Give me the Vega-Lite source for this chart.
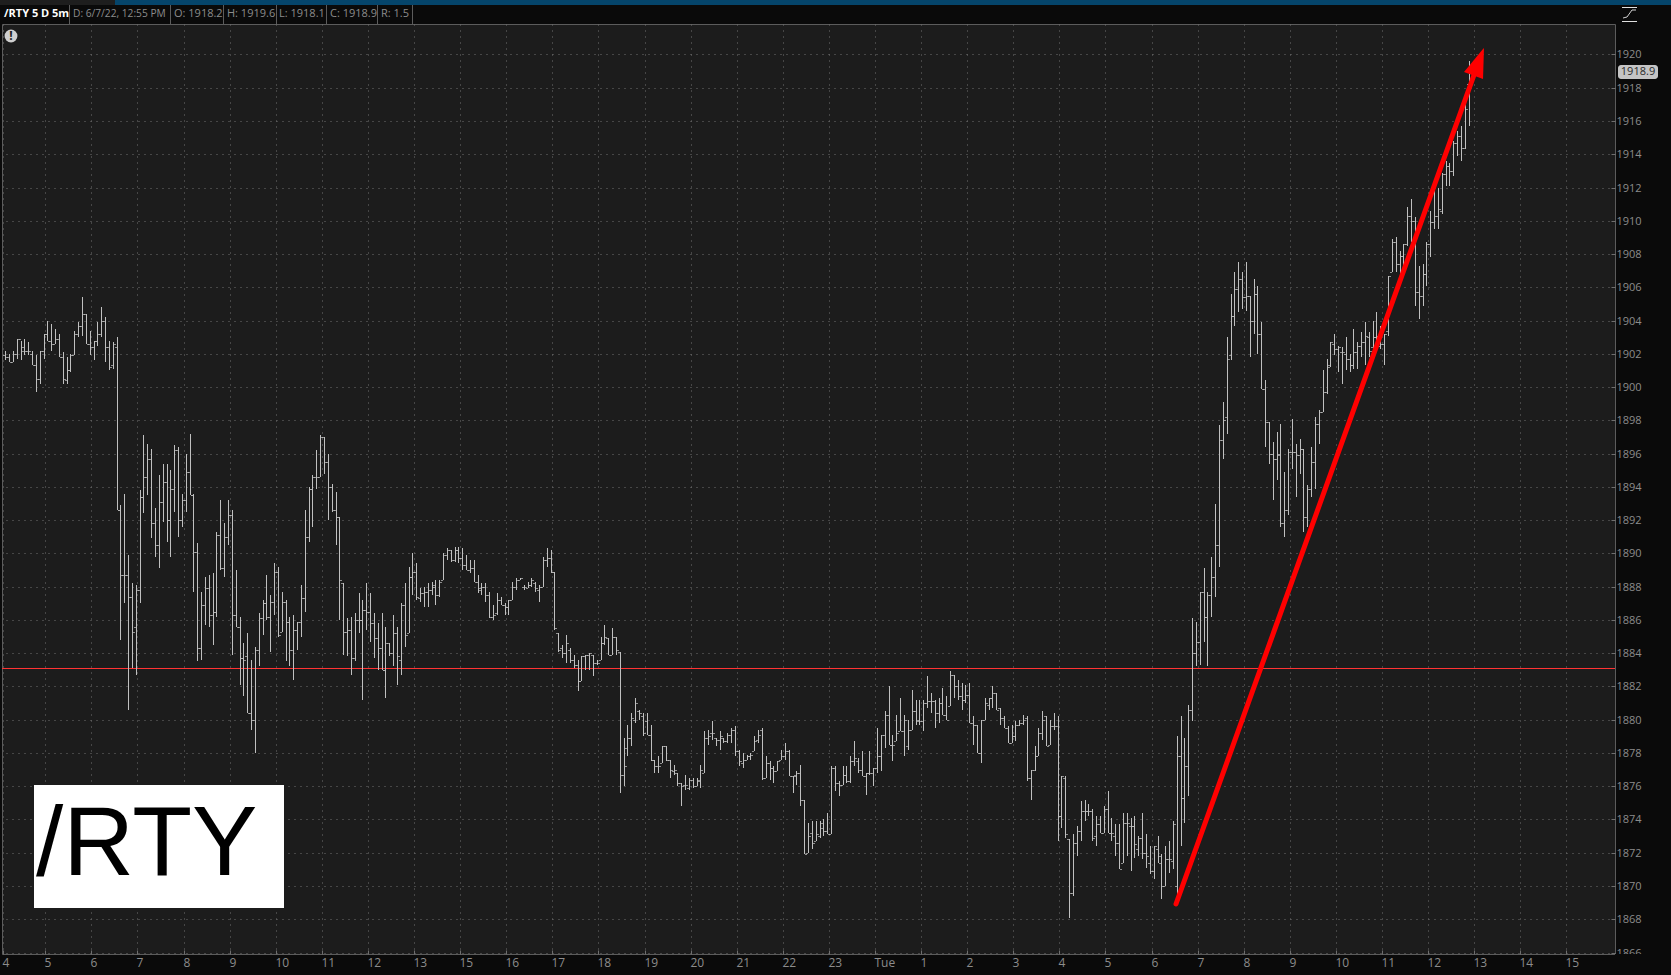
{
"$schema":"https://vega.github.io/schema/vega-lite/v6.json",
"width":1613,"height":930,
"autosize":{"type":"none"},
"padding":{"left":2,"top":24,"right":56,"bottom":21},
"background":"#0a0a0a",
"view":{"fill":"#1c1c1c","stroke":"#5c5c5c","strokeWidth":1},
"datasets":{
"bars":[
{"i":0,"h":1902.2,"l":1901.6,"o":1901.9,"c":1901.8},
{"i":1,"h":1902.0,"l":1901.5,"o":1901.8,"c":1901.5},
{"i":2,"h":1902.2,"l":1901.5,"o":1901.5,"c":1902.0},
{"i":3,"h":1902.9,"l":1901.7,"o":1902.0,"c":1902.9},
{"i":4,"h":1902.8,"l":1901.6,"o":1902.9,"c":1902.2},
{"i":5,"h":1902.9,"l":1901.9,"o":1902.4,"c":1902.2},
{"i":6,"h":1902.7,"l":1901.9,"o":1902.2,"c":1902.2},
{"i":7,"h":1902.2,"l":1901.3,"o":1902.0,"c":1901.3},
{"i":8,"h":1901.9,"l":1899.7,"o":1901.3,"c":1900.5},
{"i":9,"h":1902.2,"l":1900.2,"o":1900.5,"c":1902.2},
{"i":10,"h":1903.2,"l":1901.7,"o":1902.2,"c":1903.2},
{"i":11,"h":1904.0,"l":1902.8,"o":1903.2,"c":1902.8},
{"i":12,"h":1903.8,"l":1902.2,"o":1902.8,"c":1902.6},
{"i":13,"h":1903.5,"l":1902.6,"o":1902.6,"c":1902.9},
{"i":14,"h":1903.2,"l":1901.8,"o":1902.9,"c":1901.8},
{"i":15,"h":1902.1,"l":1900.2,"o":1901.8,"c":1900.5},
{"i":16,"h":1901.8,"l":1900.2,"o":1900.4,"c":1901.0},
{"i":17,"h":1902.0,"l":1900.9,"o":1901.0,"c":1901.9},
{"i":18,"h":1903.4,"l":1901.9,"o":1901.9,"c":1903.2},
{"i":19,"h":1903.9,"l":1903.0,"o":1903.2,"c":1903.7},
{"i":20,"h":1905.4,"l":1903.1,"o":1903.7,"c":1904.4},
{"i":21,"h":1904.4,"l":1902.6,"o":1904.4,"c":1902.6},
{"i":22,"h":1903.4,"l":1901.9,"o":1902.6,"c":1902.4},
{"i":23,"h":1902.8,"l":1901.6,"o":1902.4,"c":1902.8},
{"i":24,"h":1903.9,"l":1902.5,"o":1902.8,"c":1903.2},
{"i":25,"h":1904.8,"l":1903.0,"o":1903.2,"c":1904.0},
{"i":26,"h":1904.2,"l":1901.5,"o":1904.0,"c":1902.4},
{"i":27,"h":1902.8,"l":1901.0,"o":1902.4,"c":1901.2},
{"i":28,"h":1902.7,"l":1901.1,"o":1901.3,"c":1902.6},
{"i":29,"h":1903.0,"l":1892.6,"o":1902.4,"c":1892.6},
{"i":30,"h":1892.9,"l":1884.8,"o":1892.6,"c":1888.7},
{"i":31,"h":1893.6,"l":1887.0,"o":1888.7,"c":1888.7},
{"i":32,"h":1889.9,"l":1880.6,"o":1888.7,"c":1887.4},
{"i":33,"h":1888.2,"l":1883.1,"o":1887.4,"c":1885.3},
{"i":34,"h":1888.1,"l":1882.7,"o":1885.6,"c":1887.8},
{"i":35,"h":1893.8,"l":1887.0,"o":1887.8,"c":1893.4},
{"i":36,"h":1897.1,"l":1892.4,"o":1893.4,"c":1894.6},
{"i":37,"h":1896.6,"l":1893.5,"o":1894.6,"c":1895.7},
{"i":38,"h":1896.3,"l":1890.9,"o":1895.7,"c":1891.8},
{"i":39,"h":1892.7,"l":1889.8,"o":1891.8,"c":1890.5},
{"i":40,"h":1894.7,"l":1889.1,"o":1890.5,"c":1893.1},
{"i":41,"h":1895.4,"l":1891.9,"o":1893.1,"c":1894.3},
{"i":42,"h":1895.4,"l":1890.7,"o":1894.3,"c":1892.0},
{"i":43,"h":1895.0,"l":1889.8,"o":1892.0,"c":1893.9},
{"i":44,"h":1896.5,"l":1892.5,"o":1893.9,"c":1896.2},
{"i":45,"h":1896.4,"l":1891.0,"o":1896.2,"c":1892.0},
{"i":46,"h":1893.6,"l":1891.6,"o":1892.0,"c":1893.2},
{"i":47,"h":1896.0,"l":1892.5,"o":1893.2,"c":1894.9},
{"i":48,"h":1897.2,"l":1893.5,"o":1894.9,"c":1893.5},
{"i":49,"h":1893.6,"l":1887.7,"o":1893.5,"c":1890.1},
{"i":50,"h":1890.6,"l":1883.5,"o":1890.1,"c":1884.3},
{"i":51,"h":1887.7,"l":1883.6,"o":1884.3,"c":1886.9},
{"i":52,"h":1888.6,"l":1885.7,"o":1886.9,"c":1887.9},
{"i":53,"h":1888.7,"l":1885.6,"o":1887.9,"c":1886.3},
{"i":54,"h":1888.8,"l":1884.5,"o":1886.3,"c":1886.5},
{"i":55,"h":1891.3,"l":1886.2,"o":1886.5,"c":1891.1},
{"i":56,"h":1893.2,"l":1889.0,"o":1891.1,"c":1889.1},
{"i":57,"h":1891.8,"l":1888.6,"o":1889.1,"c":1891.0},
{"i":58,"h":1893.2,"l":1890.5,"o":1891.0,"c":1892.3},
{"i":59,"h":1892.6,"l":1883.9,"o":1892.3,"c":1886.3},
{"i":60,"h":1889.0,"l":1885.6,"o":1886.3,"c":1885.6},
{"i":61,"h":1886.2,"l":1882.1,"o":1885.6,"c":1883.7},
{"i":62,"h":1884.6,"l":1881.4,"o":1883.7,"c":1883.6},
{"i":63,"h":1885.2,"l":1880.4,"o":1883.8,"c":1880.4},
{"i":64,"h":1883.6,"l":1879.4,"o":1880.4,"c":1880.0},
{"i":65,"h":1884.4,"l":1878.0,"o":1880.0,"c":1884.2},
{"i":66,"h":1886.4,"l":1883.2,"o":1884.2,"c":1886.1},
{"i":67,"h":1887.2,"l":1885.1,"o":1886.1,"c":1887.0},
{"i":68,"h":1888.7,"l":1886.0,"o":1887.0,"c":1886.2},
{"i":69,"h":1887.5,"l":1884.1,"o":1886.2,"c":1887.1},
{"i":70,"h":1889.4,"l":1886.3,"o":1887.1,"c":1888.9},
{"i":71,"h":1889.2,"l":1885.0,"o":1888.9,"c":1885.1},
{"i":72,"h":1887.7,"l":1885.3,"o":1885.3,"c":1887.1},
{"i":73,"h":1887.2,"l":1883.5,"o":1887.1,"c":1885.9},
{"i":74,"h":1886.2,"l":1883.2,"o":1885.9,"c":1884.2},
{"i":75,"h":1886.3,"l":1882.4,"o":1884.2,"c":1885.4},
{"i":76,"h":1885.9,"l":1884.2,"o":1885.4,"c":1885.9},
{"i":77,"h":1888.1,"l":1885.0,"o":1885.9,"c":1887.3},
{"i":78,"h":1892.6,"l":1886.5,"o":1887.3,"c":1891.0},
{"i":79,"h":1894.0,"l":1890.7,"o":1891.0,"c":1893.9},
{"i":80,"h":1894.7,"l":1891.6,"o":1893.9,"c":1894.6},
{"i":81,"h":1896.2,"l":1893.9,"o":1894.6,"c":1894.6},
{"i":82,"h":1897.1,"l":1894.6,"o":1894.6,"c":1897.0},
{"i":83,"h":1897.0,"l":1894.8,"o":1897.0,"c":1895.5},
{"i":84,"h":1896.0,"l":1892.0,"o":1895.5,"c":1894.0},
{"i":85,"h":1894.2,"l":1892.5,"o":1894.0,"c":1892.6},
{"i":86,"h":1893.7,"l":1890.5,"o":1892.6,"c":1892.2},
{"i":87,"h":1892.2,"l":1886.0,"o":1892.2,"c":1888.4},
{"i":88,"h":1888.2,"l":1883.9,"o":1888.2,"c":1885.3},
{"i":89,"h":1886.1,"l":1883.8,"o":1885.3,"c":1885.4},
{"i":90,"h":1886.2,"l":1882.7,"o":1885.4,"c":1883.7},
{"i":91,"h":1886.4,"l":1883.5,"o":1883.7,"c":1886.0},
{"i":92,"h":1887.6,"l":1885.2,"o":1886.0,"c":1886.0},
{"i":93,"h":1887.2,"l":1881.2,"o":1886.0,"c":1886.6},
{"i":94,"h":1888.2,"l":1885.4,"o":1886.6,"c":1886.5},
{"i":95,"h":1887.6,"l":1884.7,"o":1886.5,"c":1885.8},
{"i":96,"h":1886.4,"l":1883.7,"o":1885.8,"c":1884.9},
{"i":97,"h":1885.8,"l":1883.0,"o":1884.9,"c":1884.3},
{"i":98,"h":1886.4,"l":1883.0,"o":1884.3,"c":1883.0},
{"i":99,"h":1885.6,"l":1881.3,"o":1883.0,"c":1884.6},
{"i":100,"h":1884.6,"l":1883.8,"o":1884.6,"c":1884.0},
{"i":101,"h":1886.3,"l":1883.2,"o":1884.0,"c":1885.2},
{"i":102,"h":1885.6,"l":1882.1,"o":1885.2,"c":1883.8},
{"i":103,"h":1887.0,"l":1882.7,"o":1883.6,"c":1886.9},
{"i":104,"h":1888.2,"l":1884.4,"o":1886.9,"c":1885.1},
{"i":105,"h":1889.2,"l":1885.2,"o":1885.2,"c":1888.6},
{"i":106,"h":1890.0,"l":1887.5,"o":1888.6,"c":1888.9},
{"i":107,"h":1889.4,"l":1887.2,"o":1888.9,"c":1887.4},
{"i":108,"h":1887.9,"l":1887.1,"o":1887.3,"c":1887.6},
{"i":109,"h":1888.0,"l":1886.8,"o":1887.6,"c":1887.7},
{"i":110,"h":1888.2,"l":1886.8,"o":1887.7,"c":1887.8},
{"i":111,"h":1888.3,"l":1887.5,"o":1887.8,"c":1888.0},
{"i":112,"h":1888.4,"l":1886.9,"o":1888.1,"c":1887.5},
{"i":113,"h":1888.4,"l":1887.4,"o":1887.5,"c":1888.3},
{"i":114,"h":1890.0,"l":1888.4,"o":1888.4,"c":1889.9},
{"i":115,"h":1890.3,"l":1889.6,"o":1889.9,"c":1890.2},
{"i":116,"h":1890.2,"l":1889.5,"o":1890.2,"c":1889.6},
{"i":117,"h":1890.4,"l":1889.5,"o":1889.6,"c":1890.2},
{"i":118,"h":1890.4,"l":1889.4,"o":1890.2,"c":1889.7},
{"i":119,"h":1890.3,"l":1889.0,"o":1889.7,"c":1889.3},
{"i":120,"h":1889.9,"l":1889.0,"o":1889.3,"c":1889.0},
{"i":121,"h":1889.6,"l":1888.8,"o":1889.0,"c":1889.1},
{"i":122,"h":1889.6,"l":1888.3,"o":1889.1,"c":1888.3},
{"i":123,"h":1888.7,"l":1887.6,"o":1888.3,"c":1887.9},
{"i":124,"h":1888.2,"l":1887.5,"o":1887.8,"c":1888.0},
{"i":125,"h":1888.2,"l":1887.1,"o":1888.0,"c":1887.5},
{"i":126,"h":1887.7,"l":1886.1,"o":1887.5,"c":1886.2},
{"i":127,"h":1886.9,"l":1886.0,"o":1886.2,"c":1886.3},
{"i":128,"h":1887.6,"l":1886.3,"o":1886.4,"c":1887.2},
{"i":129,"h":1887.4,"l":1886.9,"o":1887.2,"c":1886.9},
{"i":130,"h":1887.0,"l":1886.3,"o":1886.9,"c":1886.8},
{"i":131,"h":1887.2,"l":1886.3,"o":1886.8,"c":1887.2},
{"i":132,"h":1888.3,"l":1887.2,"o":1887.2,"c":1888.0},
{"i":133,"h":1888.5,"l":1887.8,"o":1888.0,"c":1888.4},
{"i":134,"h":1888.5,"l":1888.4,"o":1888.4,"c":1888.5},
{"i":135,"h":1888.1,"l":1887.8,"o":1888.0,"c":1888.0},
{"i":136,"h":1888.3,"l":1887.9,"o":1887.9,"c":1888.1},
{"i":137,"h":1888.5,"l":1888.0,"o":1888.1,"c":1888.4},
{"i":138,"h":1888.3,"l":1887.7,"o":1888.2,"c":1887.9},
{"i":139,"h":1888.1,"l":1887.1,"o":1887.8,"c":1888.0},
{"i":140,"h":1889.8,"l":1888.0,"o":1888.0,"c":1889.6},
{"i":141,"h":1890.3,"l":1889.2,"o":1889.6,"c":1889.7},
{"i":142,"h":1890.2,"l":1888.8,"o":1889.7,"c":1888.9},
{"i":143,"h":1888.9,"l":1885.4,"o":1888.9,"c":1885.5},
{"i":144,"h":1885.2,"l":1884.1,"o":1885.2,"c":1884.2},
{"i":145,"h":1884.5,"l":1883.7,"o":1884.3,"c":1884.0},
{"i":146,"h":1885.1,"l":1883.4,"o":1884.0,"c":1884.6},
{"i":147,"h":1884.3,"l":1883.4,"o":1884.2,"c":1883.6},
{"i":148,"h":1883.9,"l":1883.1,"o":1883.6,"c":1883.3},
{"i":149,"h":1883.6,"l":1881.7,"o":1883.3,"c":1882.3},
{"i":150,"h":1883.8,"l":1882.3,"o":1882.3,"c":1883.8},
{"i":151,"h":1883.9,"l":1883.0,"o":1883.8,"c":1883.9},
{"i":152,"h":1884.0,"l":1883.0,"o":1883.9,"c":1884.0},
{"i":153,"h":1883.9,"l":1882.6,"o":1883.9,"c":1883.4},
{"i":154,"h":1883.6,"l":1883.3,"o":1883.4,"c":1883.4},
{"i":155,"h":1885.0,"l":1883.6,"o":1883.6,"c":1884.6},
{"i":156,"h":1885.7,"l":1884.5,"o":1884.6,"c":1885.0},
{"i":157,"h":1884.9,"l":1883.9,"o":1884.9,"c":1883.9},
{"i":158,"h":1885.5,"l":1883.9,"o":1883.9,"c":1885.0},
{"i":159,"h":1885.0,"l":1883.9,"o":1885.0,"c":1884.2},
{"i":160,"h":1884.1,"l":1875.6,"o":1884.1,"c":1876.7},
{"i":161,"h":1878.9,"l":1876.0,"o":1876.7,"c":1877.2},
{"i":162,"h":1879.7,"l":1877.8,"o":1878.3,"c":1878.9},
{"i":163,"h":1880.4,"l":1878.4,"o":1878.9,"c":1880.1},
{"i":164,"h":1881.3,"l":1879.8,"o":1880.0,"c":1881.0},
{"i":165,"h":1880.6,"l":1880.0,"o":1880.5,"c":1880.4},
{"i":166,"h":1880.4,"l":1879.0,"o":1880.2,"c":1879.2},
{"i":167,"h":1880.4,"l":1879.1,"o":1879.9,"c":1879.1},
{"i":168,"h":1879.7,"l":1877.5,"o":1879.1,"c":1877.6},
{"i":169,"h":1877.6,"l":1876.8,"o":1877.6,"c":1877.2},
{"i":170,"h":1877.8,"l":1876.8,"o":1877.2,"c":1877.2},
{"i":171,"h":1878.4,"l":1877.4,"o":1877.4,"c":1878.4},
{"i":172,"h":1878.4,"l":1877.5,"o":1878.4,"c":1877.6},
{"i":173,"h":1877.6,"l":1876.5,"o":1877.6,"c":1877.0},
{"i":174,"h":1877.3,"l":1876.7,"o":1876.9,"c":1877.0},
{"i":175,"h":1876.8,"l":1876.0,"o":1876.8,"c":1876.2},
{"i":176,"h":1876.2,"l":1874.8,"o":1876.2,"c":1876.0},
{"i":177,"h":1876.7,"l":1875.8,"o":1876.1,"c":1876.1},
{"i":178,"h":1876.5,"l":1875.8,"o":1875.9,"c":1876.4},
{"i":179,"h":1876.5,"l":1875.9,"o":1876.4,"c":1876.0},
{"i":180,"h":1876.5,"l":1876.0,"o":1876.0,"c":1876.4},
{"i":181,"h":1877.3,"l":1875.9,"o":1876.3,"c":1877.0},
{"i":182,"h":1879.3,"l":1876.8,"o":1876.8,"c":1878.9},
{"i":183,"h":1879.4,"l":1878.5,"o":1878.9,"c":1879.0},
{"i":184,"h":1879.9,"l":1878.8,"o":1879.2,"c":1879.2},
{"i":185,"h":1878.9,"l":1878.4,"o":1878.9,"c":1878.8},
{"i":186,"h":1879.3,"l":1878.2,"o":1878.8,"c":1879.0},
{"i":187,"h":1878.9,"l":1878.6,"o":1878.9,"c":1878.7},
{"i":188,"h":1879.2,"l":1878.6,"o":1878.7,"c":1879.1},
{"i":189,"h":1879.5,"l":1878.6,"o":1879.1,"c":1879.4},
{"i":190,"h":1879.6,"l":1877.8,"o":1879.4,"c":1878.1},
{"i":191,"h":1878.2,"l":1877.2,"o":1878.1,"c":1877.5},
{"i":192,"h":1878.0,"l":1877.1,"o":1877.4,"c":1877.6},
{"i":193,"h":1877.9,"l":1877.6,"o":1877.6,"c":1877.8},
{"i":194,"h":1878.0,"l":1877.6,"o":1877.8,"c":1877.9},
{"i":195,"h":1879.0,"l":1878.1,"o":1878.1,"c":1878.7},
{"i":196,"h":1879.4,"l":1878.6,"o":1878.8,"c":1879.1},
{"i":197,"h":1879.5,"l":1876.4,"o":1879.4,"c":1876.5},
{"i":198,"h":1877.8,"l":1876.5,"o":1876.5,"c":1877.4},
{"i":199,"h":1877.5,"l":1876.4,"o":1877.4,"c":1877.1},
{"i":200,"h":1877.2,"l":1876.2,"o":1877.1,"c":1876.9},
{"i":201,"h":1877.5,"l":1876.9,"o":1876.9,"c":1877.5},
{"i":202,"h":1878.2,"l":1877.6,"o":1877.6,"c":1877.8},
{"i":203,"h":1878.6,"l":1877.6,"o":1877.8,"c":1878.1},
{"i":204,"h":1878.2,"l":1876.6,"o":1878.1,"c":1876.6},
{"i":205,"h":1876.6,"l":1875.6,"o":1876.6,"c":1876.6},
{"i":206,"h":1876.9,"l":1876.1,"o":1876.7,"c":1876.8},
{"i":207,"h":1877.3,"l":1874.8,"o":1876.8,"c":1875.2},
{"i":208,"h":1875.2,"l":1871.9,"o":1875.2,"c":1871.9},
{"i":209,"h":1873.8,"l":1872.0,"o":1872.0,"c":1873.0},
{"i":210,"h":1873.9,"l":1872.2,"o":1873.2,"c":1872.6},
{"i":211,"h":1873.9,"l":1872.7,"o":1872.7,"c":1873.1},
{"i":212,"h":1873.9,"l":1872.9,"o":1873.0,"c":1873.5},
{"i":213,"h":1874.0,"l":1873.0,"o":1873.8,"c":1873.3},
{"i":214,"h":1874.4,"l":1873.1,"o":1873.3,"c":1873.1},
{"i":215,"h":1877.2,"l":1873.1,"o":1873.1,"c":1877.1},
{"i":216,"h":1877.2,"l":1875.7,"o":1877.1,"c":1876.2},
{"i":217,"h":1876.3,"l":1875.4,"o":1876.2,"c":1876.1},
{"i":218,"h":1877.2,"l":1876.1,"o":1876.1,"c":1876.7},
{"i":219,"h":1877.2,"l":1876.2,"o":1876.7,"c":1876.3},
{"i":220,"h":1877.8,"l":1876.2,"o":1876.3,"c":1877.5},
{"i":221,"h":1878.7,"l":1877.2,"o":1877.5,"c":1877.7},
{"i":222,"h":1877.7,"l":1876.8,"o":1877.5,"c":1877.0},
{"i":223,"h":1878.1,"l":1876.6,"o":1877.0,"c":1876.6},
{"i":224,"h":1876.8,"l":1875.5,"o":1876.6,"c":1876.8},
{"i":225,"h":1878.1,"l":1876.7,"o":1876.8,"c":1876.8},
{"i":226,"h":1877.1,"l":1876.0,"o":1876.8,"c":1877.1},
{"i":227,"h":1879.5,"l":1876.8,"o":1877.1,"c":1877.8},
{"i":228,"h":1879.1,"l":1876.9,"o":1877.8,"c":1879.1},
{"i":229,"h":1880.5,"l":1878.3,"o":1879.1,"c":1880.3},
{"i":230,"h":1882.0,"l":1878.5,"o":1880.3,"c":1878.5},
{"i":231,"h":1879.1,"l":1877.5,"o":1878.5,"c":1878.5},
{"i":232,"h":1880.3,"l":1878.7,"o":1878.7,"c":1879.2},
{"i":233,"h":1881.3,"l":1879.3,"o":1879.3,"c":1879.3},
{"i":234,"h":1880.3,"l":1877.8,"o":1879.3,"c":1880.0},
{"i":235,"h":1880.0,"l":1878.2,"o":1878.4,"c":1879.4},
{"i":236,"h":1881.8,"l":1879.4,"o":1879.4,"c":1880.5},
{"i":237,"h":1881.2,"l":1879.7,"o":1880.5,"c":1880.0},
{"i":238,"h":1881.2,"l":1879.7,"o":1879.9,"c":1879.9},
{"i":239,"h":1881.2,"l":1879.3,"o":1879.9,"c":1881.0},
{"i":240,"h":1882.6,"l":1880.7,"o":1881.0,"c":1881.1},
{"i":241,"h":1881.6,"l":1880.4,"o":1881.1,"c":1881.1},
{"i":242,"h":1881.2,"l":1879.5,"o":1881.1,"c":1880.4},
{"i":243,"h":1881.3,"l":1879.8,"o":1880.4,"c":1881.0},
{"i":244,"h":1881.9,"l":1880.3,"o":1881.0,"c":1880.3},
{"i":245,"h":1881.4,"l":1880.0,"o":1880.3,"c":1880.0},
{"i":246,"h":1882.9,"l":1880.8,"o":1880.8,"c":1882.7},
{"i":247,"h":1882.7,"l":1881.3,"o":1882.7,"c":1882.0},
{"i":248,"h":1882.4,"l":1881.2,"o":1882.0,"c":1881.4},
{"i":249,"h":1882.2,"l":1880.6,"o":1881.4,"c":1881.2},
{"i":250,"h":1882.1,"l":1881.0,"o":1881.2,"c":1881.5},
{"i":251,"h":1882.2,"l":1879.8,"o":1881.5,"c":1879.8},
{"i":252,"h":1880.2,"l":1878.5,"o":1879.8,"c":1879.7},
{"i":253,"h":1879.7,"l":1878.0,"o":1879.7,"c":1878.0},
{"i":254,"h":1880.0,"l":1877.4,"o":1878.0,"c":1880.0},
{"i":255,"h":1881.3,"l":1880.0,"o":1880.0,"c":1881.0},
{"i":256,"h":1881.3,"l":1880.6,"o":1880.9,"c":1881.3},
{"i":257,"h":1882.0,"l":1880.7,"o":1881.3,"c":1881.6},
{"i":258,"h":1881.6,"l":1880.6,"o":1881.6,"c":1880.6},
{"i":259,"h":1880.7,"l":1879.7,"o":1880.7,"c":1880.1},
{"i":260,"h":1880.2,"l":1879.5,"o":1880.1,"c":1879.5},
{"i":261,"h":1879.6,"l":1878.6,"o":1879.5,"c":1878.6},
{"i":262,"h":1879.7,"l":1878.6,"o":1878.6,"c":1879.0},
{"i":263,"h":1879.9,"l":1878.7,"o":1879.0,"c":1879.7},
{"i":264,"h":1880.0,"l":1879.6,"o":1879.7,"c":1879.8},
{"i":265,"h":1880.3,"l":1879.7,"o":1879.8,"c":1880.0},
{"i":266,"h":1880.2,"l":1876.3,"o":1880.1,"c":1876.5},
{"i":267,"h":1877.0,"l":1875.2,"o":1876.5,"c":1877.0},
{"i":268,"h":1878.4,"l":1876.9,"o":1877.0,"c":1877.8},
{"i":269,"h":1879.5,"l":1877.8,"o":1877.8,"c":1879.2},
{"i":270,"h":1880.5,"l":1878.8,"o":1879.2,"c":1880.0},
{"i":271,"h":1880.2,"l":1878.4,"o":1880.2,"c":1878.4},
{"i":272,"h":1880.0,"l":1878.5,"o":1878.5,"c":1879.6},
{"i":273,"h":1880.4,"l":1879.4,"o":1879.6,"c":1879.6},
{"i":274,"h":1880.2,"l":1872.7,"o":1879.6,"c":1874.2},
{"i":275,"h":1876.6,"l":1873.5,"o":1874.2,"c":1876.6},
{"i":276,"h":1876.6,"l":1872.9,"o":1876.5,"c":1873.1},
{"i":277,"h":1872.8,"l":1868.1,"o":1872.8,"c":1869.6},
{"i":278,"h":1873.1,"l":1869.4,"o":1869.6,"c":1872.6},
{"i":279,"h":1873.6,"l":1871.8,"o":1872.6,"c":1873.3},
{"i":280,"h":1875.1,"l":1872.7,"o":1873.3,"c":1874.5},
{"i":281,"h":1875.2,"l":1873.9,"o":1874.5,"c":1874.5},
{"i":282,"h":1874.9,"l":1874.2,"o":1874.5,"c":1874.5},
{"i":283,"h":1874.6,"l":1872.7,"o":1874.5,"c":1872.9},
{"i":284,"h":1874.2,"l":1872.4,"o":1873.0,"c":1873.7},
{"i":285,"h":1874.2,"l":1873.2,"o":1873.7,"c":1873.2},
{"i":286,"h":1874.8,"l":1873.2,"o":1873.2,"c":1874.6},
{"i":287,"h":1875.7,"l":1873.2,"o":1874.6,"c":1873.2},
{"i":288,"h":1874.1,"l":1872.7,"o":1873.2,"c":1873.2},
{"i":289,"h":1873.7,"l":1871.8,"o":1873.0,"c":1872.6},
{"i":290,"h":1873.7,"l":1871.0,"o":1872.6,"c":1871.0},
{"i":291,"h":1874.4,"l":1871.4,"o":1871.4,"c":1873.8},
{"i":292,"h":1874.4,"l":1871.8,"o":1873.8,"c":1873.8},
{"i":293,"h":1874.1,"l":1870.9,"o":1873.6,"c":1873.6},
{"i":294,"h":1874.2,"l":1871.7,"o":1873.6,"c":1872.5},
{"i":295,"h":1873.0,"l":1871.8,"o":1872.2,"c":1872.9},
{"i":296,"h":1874.4,"l":1871.6,"o":1872.9,"c":1872.0},
{"i":297,"h":1873.1,"l":1871.1,"o":1872.0,"c":1871.8},
{"i":298,"h":1872.4,"l":1870.7,"o":1871.4,"c":1870.9},
{"i":299,"h":1872.4,"l":1870.4,"o":1870.9,"c":1872.4},
{"i":300,"h":1873.0,"l":1871.4,"o":1872.2,"c":1871.8},
{"i":301,"h":1871.9,"l":1869.2,"o":1871.4,"c":1870.0},
{"i":302,"h":1872.4,"l":1870.0,"o":1870.0,"c":1871.6},
{"i":303,"h":1872.7,"l":1870.8,"o":1871.6,"c":1871.6},
{"i":304,"h":1873.9,"l":1871.0,"o":1871.5,"c":1873.7},
{"i":305,"h":1879.0,"l":1869.5,"o":1870.0,"c":1877.8},
{"i":306,"h":1880.2,"l":1872.4,"o":1877.8,"c":1875.3},
{"i":307,"h":1878.9,"l":1873.8,"o":1875.3,"c":1877.2},
{"i":308,"h":1880.9,"l":1875.4,"o":1877.2,"c":1880.6},
{"i":309,"h":1886.1,"l":1879.9,"o":1880.6,"c":1884.0},
{"i":310,"h":1885.9,"l":1883.2,"o":1884.0,"c":1884.7},
{"i":311,"h":1887.7,"l":1883.3,"o":1884.7,"c":1887.7},
{"i":312,"h":1889.1,"l":1884.7,"o":1887.7,"c":1886.2},
{"i":313,"h":1887.7,"l":1883.2,"o":1886.2,"c":1887.5},
{"i":314,"h":1889.8,"l":1886.2,"o":1887.5,"c":1888.6},
{"i":315,"h":1893.0,"l":1887.4,"o":1888.6,"c":1890.5},
{"i":316,"h":1897.7,"l":1889.2,"o":1890.5,"c":1896.8},
{"i":317,"h":1899.1,"l":1895.7,"o":1896.8,"c":1898.0},
{"i":318,"h":1903.0,"l":1897.2,"o":1898.2,"c":1901.7},
{"i":319,"h":1905.6,"l":1901.6,"o":1901.9,"c":1904.3},
{"i":320,"h":1906.9,"l":1903.7,"o":1904.3,"c":1905.9},
{"i":321,"h":1907.5,"l":1904.5,"o":1905.9,"c":1906.5},
{"i":322,"h":1906.9,"l":1904.7,"o":1906.5,"c":1905.4},
{"i":323,"h":1907.5,"l":1904.6,"o":1905.4,"c":1905.5},
{"i":324,"h":1905.5,"l":1901.8,"o":1905.5,"c":1904.0},
{"i":325,"h":1906.5,"l":1903.2,"o":1904.0,"c":1905.6},
{"i":326,"h":1906.1,"l":1902.0,"o":1905.6,"c":1903.2},
{"i":327,"h":1903.9,"l":1899.9,"o":1903.2,"c":1899.9},
{"i":328,"h":1900.4,"l":1896.4,"o":1899.9,"c":1897.9},
{"i":329,"h":1897.9,"l":1895.4,"o":1897.9,"c":1896.0},
{"i":330,"h":1896.7,"l":1893.2,"o":1896.0,"c":1895.7},
{"i":331,"h":1897.3,"l":1894.4,"o":1895.7,"c":1896.0},
{"i":332,"h":1897.8,"l":1891.6,"o":1895.9,"c":1891.8},
{"i":333,"h":1894.9,"l":1891.0,"o":1891.8,"c":1892.6},
{"i":334,"h":1896.3,"l":1892.3,"o":1892.6,"c":1896.1},
{"i":335,"h":1898.1,"l":1895.1,"o":1896.1,"c":1896.1},
{"i":336,"h":1896.6,"l":1893.4,"o":1896.1,"c":1895.9},
{"i":337,"h":1896.9,"l":1894.8,"o":1895.9,"c":1896.3},
{"i":338,"h":1896.3,"l":1891.3,"o":1896.3,"c":1892.2},
{"i":339,"h":1894.1,"l":1891.6,"o":1892.2,"c":1893.9},
{"i":340,"h":1896.4,"l":1893.4,"o":1893.9,"c":1895.5},
{"i":341,"h":1898.2,"l":1893.9,"o":1895.5,"c":1897.8},
{"i":342,"h":1898.6,"l":1896.6,"o":1897.8,"c":1898.5},
{"i":343,"h":1901.0,"l":1898.5,"o":1898.5,"c":1899.7},
{"i":344,"h":1901.7,"l":1899.6,"o":1899.7,"c":1901.2},
{"i":345,"h":1902.7,"l":1901.2,"o":1901.3,"c":1902.7},
{"i":346,"h":1903.2,"l":1901.9,"o":1902.6,"c":1902.3},
{"i":347,"h":1902.5,"l":1900.9,"o":1902.3,"c":1902.4},
{"i":348,"h":1902.4,"l":1900.2,"o":1902.1,"c":1902.1},
{"i":349,"h":1903.0,"l":1901.0,"o":1902.0,"c":1901.7},
{"i":350,"h":1902.0,"l":1900.9,"o":1901.7,"c":1901.3},
{"i":351,"h":1903.5,"l":1901.1,"o":1901.3,"c":1902.1},
{"i":352,"h":1902.7,"l":1901.1,"o":1902.1,"c":1902.5},
{"i":353,"h":1903.3,"l":1901.8,"o":1902.5,"c":1902.7},
{"i":354,"h":1903.9,"l":1901.3,"o":1902.7,"c":1903.1},
{"i":355,"h":1903.3,"l":1901.8,"o":1903.0,"c":1902.2},
{"i":356,"h":1904.0,"l":1902.0,"o":1902.4,"c":1903.0},
{"i":357,"h":1904.5,"l":1902.2,"o":1903.0,"c":1903.1},
{"i":358,"h":1903.7,"l":1902.3,"o":1902.5,"c":1902.6},
{"i":359,"h":1903.2,"l":1901.3,"o":1902.6,"c":1903.2},
{"i":360,"h":1906.7,"l":1903.1,"o":1903.4,"c":1906.7},
{"i":361,"h":1908.9,"l":1906.9,"o":1906.9,"c":1908.7},
{"i":362,"h":1909.0,"l":1906.9,"o":1908.7,"c":1907.4},
{"i":363,"h":1908.2,"l":1906.6,"o":1907.4,"c":1907.9},
{"i":364,"h":1908.6,"l":1906.7,"o":1907.9,"c":1908.6},
{"i":365,"h":1910.8,"l":1908.5,"o":1908.6,"c":1910.3},
{"i":366,"h":1911.3,"l":1908.7,"o":1910.3,"c":1910.0},
{"i":367,"h":1910.2,"l":1904.9,"o":1910.0,"c":1905.7},
{"i":368,"h":1907.3,"l":1904.1,"o":1905.7,"c":1905.5},
{"i":369,"h":1907.4,"l":1904.9,"o":1905.5,"c":1906.8},
{"i":370,"h":1908.7,"l":1906.1,"o":1906.8,"c":1908.6},
{"i":371,"h":1910.6,"l":1907.8,"o":1908.6,"c":1909.9},
{"i":372,"h":1911.8,"l":1909.5,"o":1909.9,"c":1910.3},
{"i":373,"h":1912.0,"l":1909.5,"o":1910.3,"c":1910.7},
{"i":374,"h":1912.9,"l":1910.4,"o":1910.6,"c":1912.8},
{"i":375,"h":1913.6,"l":1912.1,"o":1912.8,"c":1913.3},
{"i":376,"h":1913.5,"l":1912.1,"o":1913.3,"c":1913.0},
{"i":377,"h":1914.8,"l":1912.7,"o":1913.0,"c":1914.7},
{"i":378,"h":1915.4,"l":1913.9,"o":1914.7,"c":1915.1},
{"i":379,"h":1915.7,"l":1913.6,"o":1915.1,"c":1914.4},
{"i":380,"h":1917.5,"l":1914.3,"o":1914.4,"c":1916.7},
{"i":381,"h":1919.6,"l":1915.7,"o":1918.2,"c":1918.9}
],
"hdr":[
{"i":-0.3,"p":1922.435,"t":"/RTY 5 D 5m","b":"y"},
{"i":17.65,"p":1922.435,"t":"D: 6/7/22, 12:55 PM","b":"d"},
{"i":43.95,"p":1922.435,"t":"O: 1918.2","b":"n"},
{"i":57.75,"p":1922.435,"t":"H: 1919.6","b":"n"},
{"i":71.3,"p":1922.435,"t":"L: 1918.1","b":"n"},
{"i":84.55,"p":1922.435,"t":"C: 1918.9","b":"n"},
{"i":97.85,"p":1922.435,"t":"R: 1.5","b":"n"}
],
"seps":[{"i":16.6,"a":1921.83,"b":1922.95},{"i":42.9,"a":1921.83,"b":1922.95},{"i":56.7,"a":1921.83,"b":1922.95},{"i":70.5,"a":1921.83,"b":1922.95},{"i":83.6,"a":1921.83,"b":1922.95},{"i":96.9,"a":1921.83,"b":1922.95},{"i":106,"a":1921.83,"b":1922.95}]
},
"layer":[
{"data":{"values":[{"a":1883.1}]},
 "mark":{"type":"rule","color":"#ff3333","strokeWidth":1,"yOffset":0.5},
 "encoding":{"y":{"field":"a","type":"quantitative","scale":{"domain":[1865.91,1921.834],"nice":false,"zero":false,"round":true},
   "axis":{"orient":"right","tickCount":40,"values":[1866,1868,1870,1872,1874,1876,1878,1880,1882,1884,1886,1888,1890,1892,1894,1896,1898,1900,1902,1904,1906,1908,1910,1912,1914,1916,1918,1920],"format":"d","title":null,"domain":false,"grid":true,"gridColor":"#707070","gridDash":[1,5],"gridWidth":1,"ticks":true,"tickColor":"#6e6e6e","tickSize":-4,"labelColor":"#8c8c8c","labelFont":"Open Sans","labelFontSize":11,"labelPadding":5,"labelAlign":"left","labelOverlap":false,"labelFlush":false,"labelBound":false}}}},
{"data":{"name":"bars"},
 "mark":{"type":"rule","color":"#c0c0c0","strokeWidth":1,"xOffset":0.5},
 "encoding":{
  "x":{"field":"i","type":"quantitative","scale":{"domain":[-0.833,419.1],"nice":false,"zero":false,"round":true},
   "axis":{"orient":"bottom","tickCount":40,"values":[-0.57,10.44,22.44,34.44,46.44,58.44,70.44,82.44,94.44,106.44,118.44,130.44,142.44,154.44,166.44,178.44,190.44,202.44,214.44,226.44,238.44,250.44,262.44,274.44,286.44,298.44,310.44,322.44,334.44,346.44,358.44,370.44,382.44,394.44,406.44],"title":null,"domain":false,"grid":true,"gridColor":"#707070","gridDash":[1,5],"gridWidth":1,"ticks":true,"tickColor":"#6e6e6e","tickSize":-4,"labelColor":"#8c8c8c","labelFont":"Open Sans","labelFontSize":12,"labelPadding":7,"labelOffset":-1,"labelAlign":"left","labelOverlap":false,"labelFlush":false,"labelBound":false,
   "labelExpr":"['4','5','6','7','8','9','10','11','12','13','15','16','17','18','19','20','21','22','23','Tue','1','2','3','4','5','6','7','8','9','10','11','12','13','14','15'][round((datum.value-10.44)/12)+1]"}},
  "y":{"field":"l","type":"quantitative","scale":{"domain":[1865.91,1921.834],"nice":false,"zero":false,"round":true}},
  "y2":{"field":"h"}}},
{"data":{"name":"bars"},
 "mark":{"type":"tick","orient":"horizontal","color":"#c0c0c0","size":2,"thickness":1,"xOffset":-1,"yOffset":0.5},
 "encoding":{"x":{"field":"i","type":"quantitative","scale":{"domain":[-0.833,419.1],"nice":false,"zero":false,"round":true}},
  "y":{"field":"o","type":"quantitative","scale":{"domain":[1865.91,1921.834],"nice":false,"zero":false,"round":true}}}},
{"data":{"name":"bars"},
 "mark":{"type":"tick","orient":"horizontal","color":"#c0c0c0","size":2,"thickness":1,"xOffset":2,"yOffset":0.5},
 "encoding":{"x":{"field":"i","type":"quantitative","scale":{"domain":[-0.833,419.1],"nice":false,"zero":false,"round":true}},
  "y":{"field":"c","type":"quantitative","scale":{"domain":[1865.91,1921.834],"nice":false,"zero":false,"round":true}}}},
{"data":{"values":[{"a":7.5,"b":72.58,"p":1876.07,"q":1868.7}]},
 "mark":{"type":"rect","color":"#ffffff"},
 "encoding":{"x":{"field":"a","type":"quantitative","scale":{"domain":[-0.833,419.1],"nice":false,"zero":false,"round":true}},"x2":{"field":"b"},
  "y":{"field":"p","type":"quantitative","scale":{"domain":[1865.91,1921.834],"nice":false,"zero":false,"round":true}},"y2":{"field":"q"}}},
{"data":{"values":[{"i":8.02,"p":1870.66,"t":"/RTY"}]},
 "mark":{"type":"text","font":"Liberation Sans","fontSize":98,"align":"left","baseline":"alphabetic","color":"#000000"},
 "encoding":{"x":{"field":"i","type":"quantitative","scale":{"domain":[-0.833,419.1],"nice":false,"zero":false,"round":true}},
  "y":{"field":"p","type":"quantitative","scale":{"domain":[1865.91,1921.834],"nice":false,"zero":false,"round":true}},"text":{"field":"t"}}},
{"data":{"values":[{"i":304.74,"p":1868.9},{"i":382.3,"p":1918.74}]},
 "mark":{"type":"line","color":"#ff0000","strokeWidth":5,"strokeCap":"round"},
 "encoding":{"x":{"field":"i","type":"quantitative","scale":{"domain":[-0.833,419.1],"nice":false,"zero":false,"round":true}},
  "y":{"field":"p","type":"quantitative","scale":{"domain":[1865.91,1921.834],"nice":false,"zero":false,"round":true}}}},
{"data":{"values":[{"i":379.88,"p":1918.97,"q":1918.97},{"i":384.74,"p":1920.32,"q":1918.51},{"i":384.93,"p":1920.37,"q":1920.37}]},
 "mark":{"type":"area","color":"#ff0000","opacity":1},
 "encoding":{"x":{"field":"i","type":"quantitative","scale":{"domain":[-0.833,419.1],"nice":false,"zero":false,"round":true}},
  "y":{"field":"p","type":"quantitative","scale":{"domain":[1865.91,1921.834],"nice":false,"zero":false,"round":true}},"y2":{"field":"q"}}},
{"data":{"values":[{"a":419.1,"b":440,"p":1865.91,"q":1864.5}]},
 "mark":{"type":"rect","color":"#0a0a0a"},
 "encoding":{"x":{"field":"a","type":"quantitative","scale":{"domain":[-0.833,419.1],"nice":false,"zero":false,"round":true}},"x2":{"field":"b"},
  "y":{"field":"p","type":"quantitative","scale":{"domain":[1865.91,1921.834],"nice":false,"zero":false,"round":true}},"y2":{"field":"q"}}},
{"data":{"values":[{"a":28.6,"b":440,"p":1923.3,"q":1923.0},{"a":-2,"b":28.6,"p":1923.3,"q":1923.0}]},
 "mark":{"type":"rect"},
 "encoding":{"x":{"field":"a","type":"quantitative","scale":{"domain":[-0.833,419.1],"nice":false,"zero":false,"round":true}},"x2":{"field":"b"},
  "y":{"field":"p","type":"quantitative","scale":{"domain":[1865.91,1921.834],"nice":false,"zero":false,"round":true}},"y2":{"field":"q"},
  "color":{"field":"a","type":"nominal","legend":null,"scale":{"domain":[28.6,-2],"range":["#05456b","#1e1e1e"]}}}},
{"data":{"name":"seps"},
 "mark":{"type":"rule","color":"#5c5c5c","strokeWidth":1,"xOffset":0.5},
 "encoding":{"x":{"field":"i","type":"quantitative","scale":{"domain":[-0.833,419.1],"nice":false,"zero":false,"round":true}},
  "y":{"field":"a","type":"quantitative","scale":{"domain":[1865.91,1921.834],"nice":false,"zero":false,"round":true}},"y2":{"field":"b"}}},
{"data":{"name":"hdr"},"transform":[{"filter":"datum.b=='n'"}],
 "mark":{"type":"text","font":"Open Sans","fontSize":11,"align":"left","baseline":"middle","color":"#8c8c8c"},
 "encoding":{"x":{"field":"i","type":"quantitative","scale":{"domain":[-0.833,419.1],"nice":false,"zero":false,"round":true}},
  "y":{"field":"p","type":"quantitative","scale":{"domain":[1865.91,1921.834],"nice":false,"zero":false,"round":true}},"text":{"field":"t"}}},
{"data":{"name":"hdr"},"transform":[{"filter":"datum.b=='d'"}],
 "mark":{"type":"text","font":"Open Sans","fontSize":10.2,"align":"left","baseline":"middle","color":"#8c8c8c"},
 "encoding":{"x":{"field":"i","type":"quantitative","scale":{"domain":[-0.833,419.1],"nice":false,"zero":false,"round":true}},
  "y":{"field":"p","type":"quantitative","scale":{"domain":[1865.91,1921.834],"nice":false,"zero":false,"round":true}},"text":{"field":"t"}}},
{"data":{"name":"hdr"},"transform":[{"filter":"datum.b=='y'"}],
 "mark":{"type":"text","font":"Open Sans","fontSize":11,"fontWeight":"bold","align":"left","baseline":"middle","color":"#ffffff"},
 "encoding":{"x":{"field":"i","type":"quantitative","scale":{"domain":[-0.833,419.1],"nice":false,"zero":false,"round":true}},
  "y":{"field":"p","type":"quantitative","scale":{"domain":[1865.91,1921.834],"nice":false,"zero":false,"round":true}},"text":{"field":"t"}}},
{"data":{"values":[{"i":1.5,"p":1921.13}]},
 "mark":{"type":"point","shape":"circle","filled":true,"size":165,"color":"#cfcfcf","opacity":1},
 "encoding":{"x":{"field":"i","type":"quantitative","scale":{"domain":[-0.833,419.1],"nice":false,"zero":false,"round":true}},
  "y":{"field":"p","type":"quantitative","scale":{"domain":[1865.91,1921.834],"nice":false,"zero":false,"round":true}}}},
{"data":{"values":[{"i":1.5,"p":1921.13,"t":"!"}]},
 "mark":{"type":"text","font":"Open Sans","fontSize":12,"fontWeight":"bold","align":"center","baseline":"middle","color":"#1c1c1c"},
 "encoding":{"x":{"field":"i","type":"quantitative","scale":{"domain":[-0.833,419.1],"nice":false,"zero":false,"round":true}},
  "y":{"field":"p","type":"quantitative","scale":{"domain":[1865.91,1921.834],"nice":false,"zero":false,"round":true}},"text":{"field":"t"}}},
{"data":{"values":[{"a":419.9,"b":430.3,"p":1919.35,"q":1918.54}]},
 "mark":{"type":"rect","color":"#c4c4c4","cornerRadius":3},
 "encoding":{"x":{"field":"a","type":"quantitative","scale":{"domain":[-0.833,419.1],"nice":false,"zero":false,"round":true}},"x2":{"field":"b"},
  "y":{"field":"p","type":"quantitative","scale":{"domain":[1865.91,1921.834],"nice":false,"zero":false,"round":true}},"y2":{"field":"q"}}},
{"data":{"values":[{"i":425.1,"p":1918.94,"t":"1918.9"}]},
 "mark":{"type":"text","font":"Open Sans","fontSize":11,"align":"center","baseline":"middle","color":"#2a2a2a"},
 "encoding":{"x":{"field":"i","type":"quantitative","scale":{"domain":[-0.833,419.1],"nice":false,"zero":false,"round":true}},
  "y":{"field":"p","type":"quantitative","scale":{"domain":[1865.91,1921.834],"nice":false,"zero":false,"round":true}},"text":{"field":"t"}}},
{"data":{"values":[{"i":420.8,"b":424.9,"p":1922.86},{"i":420.8,"b":424.9,"p":1922.02}]},
 "mark":{"type":"rule","color":"#e0e0e0","strokeWidth":1,"yOffset":0.5},
 "encoding":{"x":{"field":"i","type":"quantitative","scale":{"domain":[-0.833,419.1],"nice":false,"zero":false,"round":true}},"x2":{"field":"b"},
  "y":{"field":"p","type":"quantitative","scale":{"domain":[1865.91,1921.834],"nice":false,"zero":false,"round":true}}}},
{"data":{"values":[{"i":421.1,"p":1922.2},{"i":422.2,"p":1922.25},{"i":423.4,"p":1922.65},{"i":424.6,"p":1922.7}]},
 "mark":{"type":"line","color":"#d0d0d0","strokeWidth":1},
 "encoding":{"x":{"field":"i","type":"quantitative","scale":{"domain":[-0.833,419.1],"nice":false,"zero":false,"round":true}},
  "y":{"field":"p","type":"quantitative","scale":{"domain":[1865.91,1921.834],"nice":false,"zero":false,"round":true}}}}
]
}
